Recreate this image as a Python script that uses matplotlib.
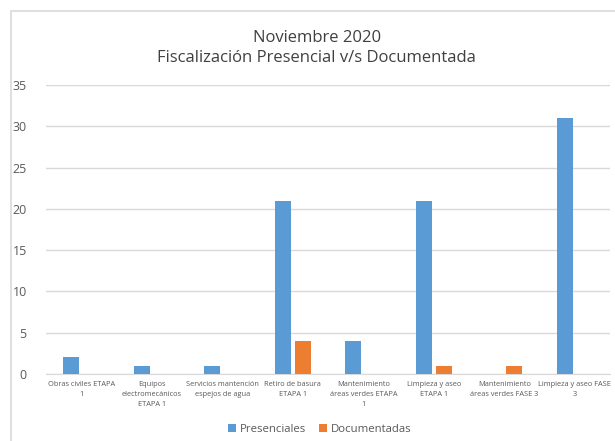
import numpy as np
import matplotlib.pyplot as plt
from matplotlib.patches import Rectangle

categorias = ["Obras civiles ETAPA\n1", "Equipos\nelectromecánicos\nETAPA 1",
              "Servicios mantención\nespejos de agua", "Retiro de basura\nETAPA 1",
              "Mantenimiento\náreas verdes ETAPA\n1", "Limpieza y aseo\nETAPA 1",
              "Mantenimiento\náreas verdes FASE 3", "Limpieza y aseo FASE\n3"]
presenciales = [2, 1, 1, 21, 4, 21, 0, 31]
documentadas = [0, 0, 0, 4, 0, 1, 1, 0]

plt.rcParams['font.family'] = ['Open Sans', 'DejaVu Sans']

fig = plt.figure(figsize=(6.15, 4.41), dpi=100)
ax = fig.add_axes([0.075, 0.152, 0.917, 0.655])

# chart frame
fig.patches.append(Rectangle((11/615, -0.01), 1.0, 1 - 11/441 + 0.01, transform=fig.transFigure,
                             fill=False, edgecolor='#D9D9D9', linewidth=1.2))

x = np.arange(len(categorias))
w = 0.227
ax.bar(x - 0.142, presenciales, w, color='#5B9BD5', label='Presenciales', zorder=3)
ax.bar(x + 0.142, documentadas, w, color='#ED7D31', label='Documentadas', zorder=3)

ax.set_xlim(-0.5, len(categorias) - 0.5)
ax.set_ylim(0, 35)
ax.set_yticks(range(0, 36, 5))
ax.yaxis.grid(True, color='#D9D9D9', linewidth=1, zorder=0)
ax.set_xticks(x)
ax.set_xticklabels(categorias, fontsize=5.3, color='#595959', linespacing=1.6)
ax.tick_params(axis='both', length=0)
ax.tick_params(axis='y', labelsize=9, colors='#595959', pad=14)
ax.tick_params(axis='x', pad=5)
for s in ['top', 'right', 'left']:
    ax.spines[s].set_visible(False)
ax.spines['bottom'].set_color('#D9D9D9')

fig.text(0.515, 0.914, "Noviembre 2020", ha='center', va='center', fontsize=12, color='#404040')
fig.text(0.515, 0.868, "Fiscalización Presencial v/s Documentada", ha='center', va='center',
         fontsize=12, color='#404040')

fig.legend(loc='center', bbox_to_anchor=(0.52, 0.027), ncol=2, frameon=False,
           fontsize=8.2, handlelength=0.7, handleheight=0.7, columnspacing=1.2,
           handletextpad=0.3, labelcolor='#595959')

fig.savefig('out.png', dpi=100)
